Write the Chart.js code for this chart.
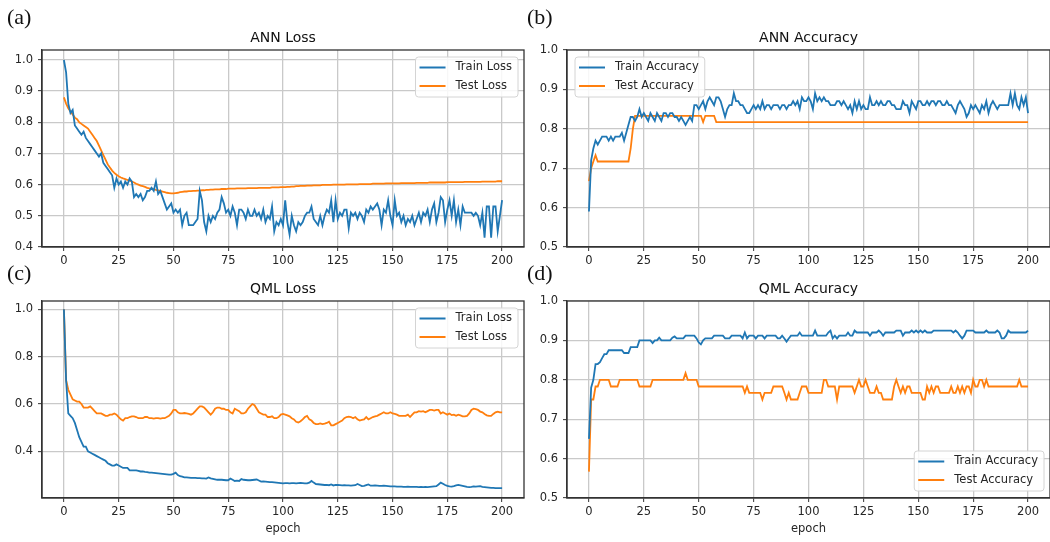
<!DOCTYPE html>
<html>
<head>
<meta charset="utf-8">
<script src="https://cdn.jsdelivr.net/npm/chart.js@4.4.1/dist/chart.umd.min.js"></script>
<style>
  html, body { margin: 0; padding: 0; background: #fff; }
  #wrap { position: relative; width: 1050px; height: 542px; overflow: hidden; }
  canvas { position: absolute; }
  .tag { position: absolute; font-family: "Liberation Serif", "Times New Roman", serif; font-size: 22px; line-height: 22px; color: #111; z-index: 2; }
</style>
</head>
<body>
<div id="wrap">
  <canvas id="annLoss" width="525" height="271" style="left:0;top:0"></canvas>
  <canvas id="annAcc" width="525" height="271" style="left:525px;top:0"></canvas>
  <canvas id="qmlLoss" width="525" height="271" style="left:0;top:271px"></canvas>
  <canvas id="qmlAcc" width="525" height="271" style="left:525px;top:271px"></canvas>
  <div class="tag" style="left:7px;top:6px">(a)</div>
  <div class="tag" style="left:527px;top:6px">(b)</div>
  <div class="tag" style="left:7px;top:262px">(c)</div>
  <div class="tag" style="left:527px;top:262px">(d)</div>
</div>
<script>
const epochs = Array.from({ length: 201 }, (_, i) => i);
const xTicks = [0, 25, 50, 75, 100, 125, 150, 175, 200];

const annTrainLoss = [
  1.00, 0.96, 0.86, 0.83, 0.84, 0.79, 0.78, 0.77, 0.76, 0.77,
  0.75, 0.74, 0.73, 0.72, 0.71, 0.70, 0.69, 0.70, 0.67, 0.66,
  0.65, 0.64, 0.63, 0.59, 0.62, 0.60, 0.61, 0.59, 0.61, 0.60,
  0.62, 0.61, 0.56, 0.57, 0.56, 0.57, 0.55, 0.56, 0.58, 0.58,
  0.59, 0.58, 0.61, 0.57, 0.58, 0.56, 0.54, 0.52, 0.53, 0.54,
  0.51, 0.52, 0.51, 0.52, 0.47, 0.50, 0.51, 0.47, 0.47, 0.47,
  0.48, 0.49, 0.58, 0.55, 0.48, 0.45, 0.50, 0.48, 0.50, 0.49,
  0.51, 0.52, 0.56, 0.54, 0.51, 0.52, 0.50, 0.53, 0.51, 0.47,
  0.52, 0.52, 0.51, 0.49, 0.52, 0.50, 0.50, 0.52, 0.50, 0.51,
  0.49, 0.52, 0.48, 0.50, 0.49, 0.53, 0.45, 0.48, 0.47, 0.49,
  0.47, 0.55, 0.48, 0.44, 0.50, 0.47, 0.45, 0.48, 0.47, 0.48,
  0.50, 0.51, 0.51, 0.53, 0.49, 0.48, 0.47, 0.50, 0.47, 0.50,
  0.52, 0.51, 0.55, 0.48, 0.55, 0.49, 0.51, 0.50, 0.52, 0.52,
  0.46, 0.51, 0.50, 0.51, 0.49, 0.51, 0.50, 0.48, 0.52, 0.51,
  0.53, 0.52, 0.53, 0.54, 0.52, 0.47, 0.52, 0.51, 0.55, 0.50,
  0.47, 0.55, 0.50, 0.51, 0.48, 0.50, 0.47, 0.49, 0.48, 0.50,
  0.47, 0.49, 0.51, 0.48, 0.51, 0.50, 0.52, 0.48, 0.52, 0.54,
  0.48, 0.51, 0.56, 0.55, 0.48, 0.52, 0.55, 0.50, 0.55, 0.48,
  0.52, 0.47, 0.53, 0.51, 0.51, 0.51, 0.51, 0.50, 0.51, 0.50,
  0.47, 0.51, 0.43, 0.53, 0.53, 0.43, 0.53, 0.53, 0.45, 0.50,
  0.55
];

const annTestLoss = [
  0.880, 0.860, 0.845, 0.835, 0.825, 0.815, 0.810, 0.800, 0.795, 0.790,
  0.785, 0.780, 0.770, 0.760, 0.750, 0.740, 0.725, 0.710, 0.695, 0.680,
  0.665, 0.655, 0.645, 0.638, 0.632, 0.627, 0.623, 0.620, 0.618, 0.615,
  0.613, 0.610, 0.607, 0.603, 0.600, 0.597, 0.595, 0.593, 0.590, 0.588,
  0.587, 0.585, 0.583, 0.582, 0.580, 0.578, 0.576, 0.574, 0.573, 0.572,
  0.572, 0.573, 0.574, 0.576, 0.577, 0.578, 0.578, 0.579, 0.579, 0.580,
  0.580, 0.581, 0.581, 0.582, 0.582, 0.583, 0.583, 0.584, 0.584, 0.585,
  0.585, 0.585, 0.586, 0.586, 0.586, 0.587, 0.587, 0.587, 0.587, 0.588,
  0.588, 0.588, 0.588, 0.588, 0.589, 0.589, 0.589, 0.589, 0.589, 0.590,
  0.590, 0.590, 0.590, 0.590, 0.590, 0.591, 0.591, 0.591, 0.591, 0.592,
  0.592, 0.592, 0.593, 0.593, 0.594, 0.594, 0.595, 0.595, 0.596, 0.596,
  0.596, 0.597, 0.597, 0.597, 0.598, 0.598, 0.598, 0.598, 0.599, 0.599,
  0.599, 0.599, 0.599, 0.600, 0.600, 0.600, 0.600, 0.600, 0.600, 0.601,
  0.601, 0.601, 0.601, 0.601, 0.601, 0.602, 0.602, 0.602, 0.602, 0.602,
  0.602, 0.603, 0.603, 0.603, 0.603, 0.603, 0.603, 0.604, 0.604, 0.604,
  0.604, 0.604, 0.604, 0.604, 0.605, 0.605, 0.605, 0.605, 0.605, 0.605,
  0.605, 0.606, 0.606, 0.606, 0.606, 0.606, 0.606, 0.607, 0.607, 0.607,
  0.607, 0.607, 0.607, 0.607, 0.607, 0.608, 0.608, 0.608, 0.608, 0.608,
  0.608, 0.608, 0.608, 0.609, 0.609, 0.609, 0.609, 0.609, 0.609, 0.609,
  0.609, 0.610, 0.610, 0.610, 0.610, 0.610, 0.610, 0.610, 0.611, 0.611,
  0.611
];

const annTrainAcc = [
  0.59, 0.72, 0.75, 0.77, 0.76, 0.77, 0.78, 0.78, 0.78, 0.77,
  0.78, 0.77, 0.78, 0.78, 0.78, 0.79, 0.77, 0.79, 0.81, 0.83,
  0.83, 0.82, 0.83, 0.85, 0.83, 0.84, 0.83, 0.82, 0.84, 0.83,
  0.82, 0.84, 0.83, 0.82, 0.84, 0.84, 0.83, 0.84, 0.84, 0.83,
  0.83, 0.82, 0.83, 0.82, 0.81, 0.82, 0.83, 0.82, 0.86, 0.86,
  0.85, 0.86, 0.87, 0.85, 0.87, 0.88, 0.87, 0.86, 0.88, 0.88,
  0.87, 0.85, 0.83, 0.85, 0.86, 0.86, 0.89, 0.87, 0.87, 0.86,
  0.86, 0.85, 0.84, 0.84, 0.85, 0.86, 0.85, 0.86, 0.85, 0.87,
  0.85, 0.86, 0.86, 0.85, 0.86, 0.86, 0.86, 0.85, 0.86, 0.86,
  0.85, 0.86, 0.86, 0.87, 0.86, 0.87, 0.85, 0.88, 0.87, 0.87,
  0.88, 0.87, 0.85, 0.89, 0.87, 0.88, 0.87, 0.88, 0.87, 0.87,
  0.86, 0.86, 0.86, 0.87, 0.87, 0.86, 0.87, 0.86, 0.85, 0.86,
  0.84, 0.87, 0.85, 0.87, 0.85, 0.86, 0.85, 0.85, 0.88, 0.86,
  0.86, 0.87, 0.86, 0.87, 0.86, 0.86, 0.87, 0.87, 0.86, 0.86,
  0.85, 0.85, 0.85, 0.87, 0.86, 0.86, 0.84, 0.87, 0.86, 0.85,
  0.87, 0.87, 0.86, 0.86, 0.87, 0.86, 0.87, 0.87, 0.86, 0.87,
  0.87, 0.86, 0.86, 0.87, 0.86, 0.86, 0.85, 0.84, 0.86, 0.87,
  0.86, 0.85, 0.83, 0.84, 0.86, 0.85, 0.86, 0.85, 0.84, 0.86,
  0.85, 0.87, 0.84, 0.86, 0.87, 0.86, 0.85, 0.86, 0.86, 0.86,
  0.86, 0.86, 0.89, 0.86, 0.89, 0.86, 0.85, 0.88, 0.86, 0.88,
  0.84
];

const annTestAcc = [
  0.667, 0.700, 0.717, 0.733, 0.717, 0.717, 0.717, 0.717, 0.717, 0.717,
  0.717, 0.717, 0.717, 0.717, 0.717, 0.717, 0.717, 0.717, 0.717, 0.750,
  0.800, 0.833, 0.833, 0.833, 0.833, 0.833, 0.833, 0.833, 0.833, 0.833,
  0.833, 0.833, 0.833, 0.833, 0.833, 0.833, 0.833, 0.833, 0.833, 0.833,
  0.833, 0.833, 0.833, 0.833, 0.833, 0.833, 0.833, 0.833, 0.833, 0.833,
  0.833, 0.833, 0.817, 0.833, 0.833, 0.833, 0.833, 0.833, 0.817, 0.817,
  0.817, 0.817, 0.817, 0.817, 0.817, 0.817, 0.817, 0.817, 0.817, 0.817,
  0.817, 0.817, 0.817, 0.817, 0.817, 0.817, 0.817, 0.817, 0.817, 0.817,
  0.817, 0.817, 0.817, 0.817, 0.817, 0.817, 0.817, 0.817, 0.817, 0.817,
  0.817, 0.817, 0.817, 0.817, 0.817, 0.817, 0.817, 0.817, 0.817, 0.817,
  0.817, 0.817, 0.817, 0.817, 0.817, 0.817, 0.817, 0.817, 0.817, 0.817,
  0.817, 0.817, 0.817, 0.817, 0.817, 0.817, 0.817, 0.817, 0.817, 0.817,
  0.817, 0.817, 0.817, 0.817, 0.817, 0.817, 0.817, 0.817, 0.817, 0.817,
  0.817, 0.817, 0.817, 0.817, 0.817, 0.817, 0.817, 0.817, 0.817, 0.817,
  0.817, 0.817, 0.817, 0.817, 0.817, 0.817, 0.817, 0.817, 0.817, 0.817,
  0.817, 0.817, 0.817, 0.817, 0.817, 0.817, 0.817, 0.817, 0.817, 0.817,
  0.817, 0.817, 0.817, 0.817, 0.817, 0.817, 0.817, 0.817, 0.817, 0.817,
  0.817, 0.817, 0.817, 0.817, 0.817, 0.817, 0.817, 0.817, 0.817, 0.817,
  0.817, 0.817, 0.817, 0.817, 0.817, 0.817, 0.817, 0.817, 0.817, 0.817,
  0.817, 0.817, 0.817, 0.817, 0.817, 0.817, 0.817, 0.817, 0.817, 0.817,
  0.817
];

const qmlTrainLoss = [
  1.000, 0.700, 0.560, 0.550, 0.540, 0.520, 0.490, 0.460, 0.440, 0.420,
  0.420, 0.400, 0.395, 0.390, 0.385, 0.380, 0.375, 0.370, 0.365, 0.360,
  0.350, 0.345, 0.340, 0.340, 0.345, 0.340, 0.335, 0.330, 0.330, 0.330,
  0.320, 0.320, 0.320, 0.320, 0.318, 0.315, 0.315, 0.313, 0.312, 0.310,
  0.310, 0.309, 0.308, 0.307, 0.306, 0.305, 0.304, 0.303, 0.302, 0.302,
  0.305, 0.310, 0.300, 0.295, 0.293, 0.290, 0.290, 0.289, 0.288, 0.288,
  0.288, 0.287, 0.287, 0.286, 0.286, 0.285, 0.290, 0.286, 0.284, 0.282,
  0.280, 0.281, 0.280, 0.279, 0.278, 0.278, 0.285, 0.280, 0.275, 0.276,
  0.275, 0.283, 0.280, 0.279, 0.278, 0.278, 0.279, 0.280, 0.281, 0.277,
  0.272, 0.273, 0.272, 0.271, 0.270, 0.270, 0.269, 0.268, 0.267, 0.266,
  0.265, 0.266, 0.266, 0.265, 0.266, 0.266, 0.265, 0.266, 0.267, 0.266,
  0.265, 0.265, 0.268, 0.275, 0.268, 0.262, 0.261, 0.260, 0.259, 0.258,
  0.258, 0.257, 0.260, 0.256, 0.258, 0.258, 0.257, 0.256, 0.257, 0.256,
  0.256, 0.255, 0.256, 0.257, 0.262, 0.258, 0.253, 0.254, 0.257, 0.260,
  0.255, 0.255, 0.256, 0.255, 0.254, 0.254, 0.255, 0.254, 0.253, 0.252,
  0.252, 0.252, 0.251, 0.251, 0.251, 0.250, 0.250, 0.251, 0.250, 0.250,
  0.250, 0.250, 0.249, 0.250, 0.249, 0.250, 0.249, 0.250, 0.251, 0.252,
  0.253, 0.260, 0.268, 0.263, 0.258, 0.254, 0.252, 0.251, 0.253, 0.256,
  0.258, 0.256, 0.254, 0.252, 0.250, 0.249, 0.250, 0.252, 0.251, 0.252,
  0.253, 0.250, 0.249, 0.248, 0.247, 0.246, 0.246, 0.245, 0.245, 0.245,
  0.245
];

const qmlTestLoss = [
  1.000, 0.700, 0.660, 0.640, 0.620, 0.615, 0.610, 0.610, 0.600, 0.585,
  0.585, 0.585, 0.590, 0.580, 0.570, 0.560, 0.560, 0.560, 0.555, 0.550,
  0.550, 0.555, 0.555, 0.560, 0.555, 0.545, 0.535, 0.530, 0.540, 0.540,
  0.545, 0.548, 0.548, 0.545, 0.540, 0.540, 0.540, 0.545, 0.545, 0.540,
  0.540, 0.538, 0.540, 0.540, 0.538, 0.540, 0.540, 0.545, 0.550, 0.560,
  0.575, 0.575, 0.565, 0.560, 0.560, 0.562, 0.560, 0.558, 0.555, 0.560,
  0.570, 0.580, 0.590, 0.590, 0.585, 0.575, 0.565, 0.555, 0.565, 0.580,
  0.585, 0.585, 0.580, 0.580, 0.575, 0.575, 0.565, 0.560, 0.580, 0.575,
  0.570, 0.560, 0.560, 0.565, 0.580, 0.590, 0.600, 0.595, 0.580, 0.565,
  0.560, 0.555, 0.555, 0.545, 0.545, 0.548, 0.540, 0.540, 0.545, 0.555,
  0.558, 0.555, 0.552, 0.548, 0.540, 0.535, 0.525, 0.522, 0.527, 0.535,
  0.545, 0.550, 0.535, 0.530, 0.520, 0.515, 0.515, 0.518, 0.515, 0.517,
  0.520, 0.525, 0.510, 0.510, 0.515, 0.520, 0.525, 0.530, 0.540, 0.545,
  0.547, 0.545, 0.540, 0.545, 0.535, 0.530, 0.533, 0.535, 0.545, 0.535,
  0.540, 0.545, 0.548, 0.550, 0.555, 0.560, 0.565, 0.560, 0.560, 0.565,
  0.560, 0.558, 0.555, 0.550, 0.550, 0.550, 0.550, 0.555, 0.545, 0.555,
  0.565, 0.565, 0.570, 0.568, 0.570, 0.565, 0.570, 0.575, 0.575, 0.572,
  0.575, 0.575, 0.560, 0.565, 0.560, 0.555, 0.560, 0.553, 0.555, 0.550,
  0.555, 0.552, 0.548, 0.548, 0.550, 0.560, 0.575, 0.580, 0.578, 0.575,
  0.568, 0.565, 0.558, 0.552, 0.550, 0.550, 0.558, 0.565, 0.568, 0.565,
  0.565
];

const qmlTrainAcc = [
  0.650, 0.780, 0.800, 0.840, 0.840, 0.845, 0.855, 0.865, 0.865, 0.875,
  0.875, 0.875, 0.875, 0.875, 0.875, 0.875, 0.868, 0.868, 0.868, 0.883,
  0.883, 0.883, 0.883, 0.900, 0.900, 0.900, 0.900, 0.900, 0.900, 0.893,
  0.900, 0.900, 0.907, 0.900, 0.900, 0.900, 0.900, 0.900, 0.907, 0.910,
  0.905, 0.905, 0.905, 0.905, 0.912, 0.912, 0.912, 0.912, 0.912, 0.905,
  0.895, 0.890, 0.900, 0.905, 0.905, 0.905, 0.905, 0.912, 0.912, 0.912,
  0.912, 0.912, 0.905, 0.905, 0.905, 0.912, 0.912, 0.912, 0.912, 0.912,
  0.905, 0.920, 0.905, 0.912, 0.912, 0.912, 0.905, 0.912, 0.912, 0.912,
  0.905, 0.912, 0.912, 0.912, 0.912, 0.912, 0.905, 0.905, 0.912, 0.905,
  0.897, 0.905, 0.912, 0.912, 0.912, 0.912, 0.920, 0.912, 0.912, 0.912,
  0.912, 0.912, 0.912, 0.925, 0.912, 0.912, 0.912, 0.912, 0.912, 0.920,
  0.925, 0.905, 0.912, 0.905, 0.912, 0.912, 0.912, 0.912, 0.920, 0.912,
  0.912, 0.925, 0.920, 0.920, 0.920, 0.920, 0.920, 0.920, 0.912, 0.920,
  0.920, 0.920, 0.925, 0.920, 0.912, 0.920, 0.920, 0.920, 0.920, 0.920,
  0.925, 0.925, 0.925, 0.912, 0.920, 0.920, 0.920, 0.925, 0.920, 0.925,
  0.920, 0.925, 0.920, 0.925, 0.920, 0.920, 0.920, 0.925, 0.925, 0.925,
  0.925, 0.925, 0.925, 0.925, 0.925, 0.925, 0.920, 0.925, 0.920, 0.912,
  0.905, 0.912, 0.925, 0.925, 0.925, 0.925, 0.920, 0.920, 0.920, 0.920,
  0.920, 0.925, 0.920, 0.920, 0.920, 0.920, 0.925, 0.920, 0.905, 0.905,
  0.912, 0.925, 0.920, 0.920, 0.920, 0.920, 0.920, 0.920, 0.920, 0.920,
  0.925
];

const qmlTestAcc = [
  0.567, 0.750, 0.750, 0.783, 0.783, 0.800, 0.800, 0.800, 0.800, 0.800,
  0.783, 0.783, 0.783, 0.783, 0.800, 0.800, 0.800, 0.800, 0.800, 0.800,
  0.800, 0.800, 0.800, 0.783, 0.783, 0.783, 0.783, 0.783, 0.783, 0.800,
  0.800, 0.800, 0.800, 0.800, 0.800, 0.800, 0.800, 0.800, 0.800, 0.800,
  0.800, 0.800, 0.800, 0.800, 0.817, 0.800, 0.800, 0.800, 0.800, 0.800,
  0.783, 0.783, 0.783, 0.783, 0.783, 0.783, 0.783, 0.783, 0.783, 0.783,
  0.783, 0.783, 0.783, 0.783, 0.783, 0.783, 0.783, 0.783, 0.783, 0.783,
  0.783, 0.767, 0.783, 0.767, 0.767, 0.767, 0.767, 0.767, 0.767, 0.750,
  0.767, 0.767, 0.767, 0.767, 0.783, 0.783, 0.783, 0.783, 0.783, 0.767,
  0.750, 0.767, 0.750, 0.750, 0.750, 0.750, 0.767, 0.783, 0.783, 0.783,
  0.767, 0.767, 0.767, 0.767, 0.767, 0.767, 0.767, 0.800, 0.800, 0.783,
  0.783, 0.783, 0.783, 0.750, 0.783, 0.783, 0.783, 0.783, 0.783, 0.783,
  0.783, 0.767, 0.783, 0.800, 0.783, 0.783, 0.800, 0.783, 0.767, 0.767,
  0.767, 0.783, 0.767, 0.767, 0.750, 0.750, 0.750, 0.750, 0.750, 0.783,
  0.800, 0.783, 0.767, 0.783, 0.767, 0.783, 0.783, 0.767, 0.767, 0.767,
  0.767, 0.767, 0.750, 0.750, 0.783, 0.767, 0.783, 0.767, 0.783, 0.783,
  0.767, 0.767, 0.767, 0.767, 0.767, 0.783, 0.767, 0.767, 0.783, 0.767,
  0.783, 0.767, 0.783, 0.783, 0.767, 0.800, 0.783, 0.783, 0.800, 0.800,
  0.783, 0.800, 0.783, 0.783, 0.783, 0.783, 0.783, 0.783, 0.783, 0.783,
  0.783, 0.783, 0.783, 0.783, 0.783, 0.783, 0.800, 0.783, 0.783, 0.783,
  0.783
];

const blue = '#1f77b4';
const orange = '#ff7f0e';

Chart.defaults.font.family = '"DejaVu Sans", sans-serif';
Chart.defaults.font.size = 11.5;
Chart.defaults.color = '#262626';

// matplotlib style legend box drawn inside the axes
const boxLegend = {
  id: 'boxLegend',
  afterDatasetsDraw(chart, args, opts) {
    const { ctx, chartArea: a } = chart;
    const items = chart.data.datasets;
    ctx.save();
    ctx.font = '11.5px "DejaVu Sans"';
    const textW = Math.max(...items.map(d => ctx.measureText(d.label).width));
    const w = 40 + textW + 6, h = 40;
    const x = opts.corner.includes('e') ? a.right - 6 - w : a.left + 8;
    const y = opts.corner.includes('n') ? a.top + 7 : a.bottom - 7 - h;
    ctx.beginPath();
    ctx.roundRect(x, y, w, h, 3);
    ctx.fillStyle = 'rgba(255,255,255,0.85)';
    ctx.fill();
    ctx.strokeStyle = '#d4d4d4';
    ctx.lineWidth = 1;
    ctx.stroke();
    items.forEach((d, i) => {
      const ly = y + 10.5 + i * 18.5;
      ctx.beginPath();
      ctx.moveTo(x + 4, ly);
      ctx.lineTo(x + 30, ly);
      ctx.strokeStyle = d.borderColor;
      ctx.lineWidth = 2;
      ctx.stroke();
      ctx.fillStyle = '#262626';
      ctx.textBaseline = 'middle';
      ctx.fillText(d.label, x + 40, ly);
    });
    ctx.restore();
  }
};

// top and right spines
const frame = {
  id: 'frame',
  afterDraw(chart) {
    const { ctx, chartArea: a } = chart;
    ctx.save();
    ctx.strokeStyle = '#333';
    ctx.lineWidth = 1.3;
    ctx.strokeRect(a.left, a.top, a.right - a.left, a.bottom - a.top);
    ctx.restore();
  }
};

function makeChart(id, title, names, series, yMin, yMax, yStep, corner, bottomRow, padRight) {
  return new Chart(document.getElementById(id), {
    type: 'line',
    data: {
      labels: epochs,
      datasets: [
        { label: names[0], data: series[0], borderColor: blue, backgroundColor: blue },
        { label: names[1], data: series[1], borderColor: orange, backgroundColor: orange }
      ]
    },
    options: {
      responsive: false,
      animation: false,
      events: [],
      layout: { padding: { left: 0, right: padRight, top: 0, bottom: 0 } },
      elements: {
        line: { borderWidth: 1.8, tension: 0 },
        point: { radius: 0 }
      },
      scales: {
        x: {
          type: 'linear',
          min: -10,
          max: 210,
          afterBuildTicks: s => { s.ticks = xTicks.map(v => ({ value: v })); },
          afterFit: s => { s.height = bottomRow ? 44 : 24; },
          ticks: { padding: 3, callback: v => String(v), maxRotation: 0 },
          grid: { color: '#c9c9c9', lineWidth: 1.3, tickLength: 4, tickColor: '#333', tickWidth: 1 },
          border: { color: '#333', width: 1.3 },
          title: {
            display: bottomRow,
            text: 'epoch',
            font: { size: 11.5 },
            padding: { top: 0, bottom: 6 }
          }
        },
        y: {
          min: yMin,
          max: yMax,
          afterFit: s => { s.width = 42; },
          ticks: { stepSize: yStep, includeBounds: false, padding: 5, callback: v => v.toFixed(1) },
          grid: { color: '#c9c9c9', lineWidth: 1.3, tickLength: 4, tickColor: '#333', tickWidth: 1 },
          border: { color: '#333', width: 1.3 }
        }
      },
      plugins: {
        legend: { display: false },
        tooltip: { enabled: false },
        title: {
          display: true,
          text: title,
          fullSize: false,
          color: '#111',
          font: { size: 14, weight: 'normal' },
          padding: bottomRow ? { top: 9.6, bottom: 3.6 } : { top: 29.6, bottom: 3.6 }
        },
        boxLegend: { corner: corner }
      }
    },
    plugins: [boxLegend, frame]
  });
}

makeChart('annLoss', 'ANN Loss', ['Train Loss', 'Test Loss'],
  [annTrainLoss, annTestLoss], 0.4, 1.032, 0.1, 'ne', false, 1);
makeChart('annAcc', 'ANN Accuracy', ['Train Accuracy', 'Test Accuracy'],
  [annTrainAcc, annTestAcc], 0.5, 1.0, 0.1, 'nw', false, 0);
makeChart('qmlLoss', 'QML Loss', ['Train Loss', 'Test Loss'],
  [qmlTrainLoss, qmlTestLoss], 0.203, 1.035, 0.2, 'ne', true, 1);
makeChart('qmlAcc', 'QML Accuracy', ['Train Accuracy', 'Test Accuracy'],
  [qmlTrainAcc, qmlTestAcc], 0.5, 1.0, 0.1, 'se', true, 0);
</script>
</body>
</html>
